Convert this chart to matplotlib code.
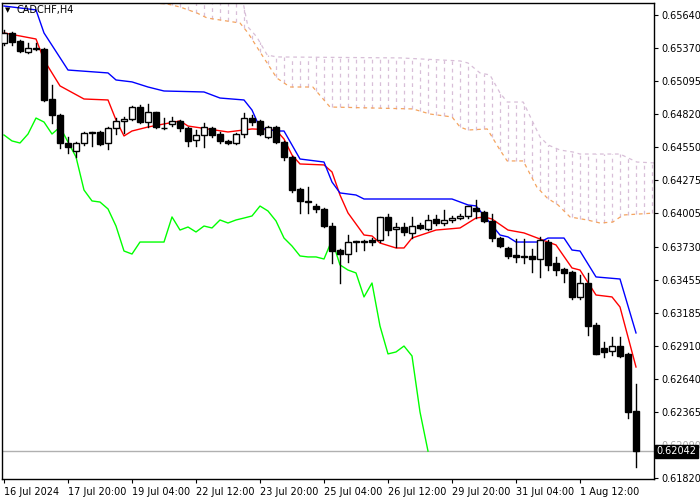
import matplotlib
matplotlib.use("Agg")
import matplotlib.pyplot as plt
import numpy as np

# OHLC in price points (1e-5)
opens = [65409, 65492, 65426, 65335, 65368, 65360, 64947, 64815, 64584, 64518,
         64584, 64675, 64675, 64584, 64708, 64766, 64782, 64881, 64757, 64840,
         64708, 64741, 64766, 64708, 64609, 64650, 64708, 64658, 64601, 64584,
         64658, 64790, 64766, 64634, 64716, 64592, 64469, 64205, 64106, 64064,
         64040, 63899, 63701, 63668, 63776, 63776, 63784, 63784, 63974, 63875,
         63891, 63842, 63908, 63875, 63957, 63924, 63949, 63965, 63982, 64048,
         64015, 63941, 63800, 63718, 63660, 63652, 63652, 63627, 63767, 63594,
         63545, 63520, 63314, 63429, 63083, 62893, 62868, 62909, 62844, 62373]
highs = [65516, 65500, 65434, 65409, 65409, 65368, 65063, 64823, 64634, 64592,
         64675, 64675, 64683, 64716, 64790, 64799, 64889, 64898, 64906, 64840,
         64790, 64799, 64774, 64716, 64691, 64749, 64716, 64675, 64609, 64667,
         64832, 64815, 64774, 64724, 64724, 64601, 64477, 64213, 64221, 64081,
         64048, 63924, 63710, 63825, 63776, 63784, 63800, 63974, 63998, 63924,
         63924, 63974, 63924, 63990, 63990, 64031, 63982, 63998, 64064, 64114,
         64023, 63998, 63809, 63726, 63792, 63792, 63710, 63809, 63784, 63644,
         63553, 63528, 63495, 63512, 63099, 62943, 62984, 62984, 62852, 62596]
lows = [65393, 65393, 65335, 65327, 65351, 64931, 64749, 64543, 64502, 64469,
        64568, 64559, 64568, 64535, 64658, 64667, 64774, 64749, 64716, 64708,
        64700, 64724, 64683, 64559, 64559, 64551, 64634, 64584, 64576, 64576,
        64634, 64733, 64650, 64625, 64584, 64444, 64180, 64007, 64007, 64015,
        63891, 63594, 63429, 63602, 63693, 63701, 63743, 63767, 63825, 63726,
        63825, 63800, 63875, 63866, 63908, 63908, 63932, 63957, 63965, 63965,
        63932, 63776, 63726, 63635, 63602, 63594, 63520, 63479, 63536, 63495,
        63437, 63297, 63297, 63000, 62844, 62819, 62835, 62819, 62315, 61911]
closes = [65492, 65417, 65343, 65368, 65360, 64939, 64815, 64584, 64551, 64584,
          64667, 64667, 64576, 64708, 64766, 64782, 64881, 64757, 64840, 64716,
          64708, 64766, 64708, 64601, 64650, 64716, 64650, 64601, 64584, 64658,
          64790, 64757, 64658, 64716, 64592, 64469, 64196, 64106, 64097, 64040,
          63899, 63693, 63668, 63767, 63767, 63767, 63767, 63974, 63866, 63891,
          63850, 63899, 63883, 63949, 63924, 63949, 63965, 63982, 64064, 64023,
          63941, 63800, 63734, 63652, 63644, 63644, 63627, 63784, 63578, 63536,
          63512, 63314, 63429, 63074, 62844, 62860, 62909, 62827, 62365, 62042]

# Ichimoku lines: (bar index, price points)
tenkan_idx = [0, 4, 5, 7, 10, 13, 14, 15, 16, 18, 22, 23, 28, 31, 34, 35, 36, 37, 40, 41,
              42, 43, 45, 46, 47, 49, 50, 51, 54, 57, 59, 60, 61, 63, 65, 68, 69, 71, 72,
              74, 76, 77, 79]
tenkan_val = [65492, 65442, 65269, 65055, 64947, 64939, 64774, 64642, 64683, 64716, 64766,
              64724, 64675, 64700, 64691, 64617, 64485, 64411, 64403, 64345, 64155, 64007,
              63825, 63817, 63759, 63718, 63718, 63800, 63866, 63883, 63965, 63974, 63957,
              63866, 63842, 63767, 63743, 63553, 63536, 63330, 63314, 63231, 62736]
kijun_idx = [0, 4, 5, 8, 13, 14, 16, 18, 20, 25, 27, 30, 31, 32, 34, 35, 37, 40, 41, 42,
             44, 45, 56, 58, 59, 62, 63, 64, 67, 68, 70, 71, 72, 74, 77, 79]
kijun_val = [65714, 65682, 65492, 65186, 65162, 65104, 65088, 65046, 65013, 65005, 64955,
             64939, 64856, 64708, 64683, 64683, 64452, 64427, 64262, 64172, 64155, 64122,
             64122, 64073, 64065, 63825, 63809, 63767, 63767, 63800, 63800, 63701, 63693,
             63479, 63462, 63017]
span_b_idx = [17, 18.6, 29.9, 30.5, 31.6, 32.9, 34.1, 49.5, 57, 58, 59.5, 60.75, 62, 62.9,
              64.9, 67, 68, 69.5, 71.1, 72, 77, 79.1, 81.5]
span_b_val = [65900, 65739, 65739, 65541, 65459, 65310, 65294, 65286, 65261, 65244, 65162,
              65145, 64997, 64922, 64922, 64634, 64568, 64526, 64510, 64493, 64493, 64427,
              64419]
span_a_idx = [17, 18.6, 20.4, 22, 24.1, 25.4, 29.5, 30.5, 32.4, 34.1, 35.75, 38.6, 40.75,
              51.1, 53.25, 56, 57, 58, 60.4, 62, 62.9, 64.9, 66.6, 67.9, 69.25, 70.75, 72.9,
              74.5, 76.1, 77.4, 81.5]
span_a_val = [65805, 65739, 65731, 65706, 65657, 65615, 65574, 65492, 65294, 65120, 65046,
              65046, 64881, 64865, 64823, 64799, 64716, 64691, 64700, 64526, 64436, 64436,
              64221, 64130, 64073, 63974, 63949, 63924, 63932, 63990, 64007]

yticks = [0.65640, 0.65370, 0.65095, 0.64820, 0.64550, 0.64275, 0.64005, 0.63730,
          0.63455, 0.63185, 0.62910, 0.62640, 0.62365, 0.62090, 0.61820]
xtick_idx = [0, 8, 16, 24, 32, 40, 48, 56, 64, 72]
xtick_labels = ["16 Jul 2024", "17 Jul 20:00", "19 Jul 04:00", "22 Jul 12:00", "23 Jul 20:00",
                "25 Jul 04:00", "26 Jul 12:00", "29 Jul 20:00", "31 Jul 04:00", "1 Aug 12:00"]

o = np.array(opens) / 1e5
h = np.array(highs) / 1e5
l = np.array(lows) / 1e5
c = np.array(closes) / 1e5
x = np.arange(len(c))
ymin, ymax = 0.61812, 0.65739

fig = plt.figure(figsize=(7, 5), dpi=100)
ax = fig.add_axes([2 / 700, 21 / 500, 652 / 700, 476 / 500])
ax.set_xlim(-0.25, 81.25)
ax.set_ylim(ymin, ymax)

# cloud hatch
sa_i = np.array(span_a_idx); sa_v = np.array(span_a_val) / 1e5
sb_i = np.array(span_b_idx); sb_v = np.array(span_b_val) / 1e5
for k in range(18, 82):
    lo = np.interp(k, sa_i, sa_v)
    hi = np.interp(k, sb_i, sb_v)
    ax.plot([k, k], [lo, hi], color="#d8bfd8", lw=0.9, ls=(0, (3, 3)), zorder=1)
ax.plot(sb_i, sb_v, color="#d8bfd8", lw=0.9, ls=(0, (3, 3)), zorder=1)
ax.plot(sa_i, sa_v, color="#f4a460", lw=0.9, ls=(0, (3, 3)), zorder=1)

# chikou: close shifted 26 bars back
ax.plot(x[:len(c) - 26], c[26:], color="#00ff00", lw=1, zorder=2)
ax.plot(tenkan_idx, np.array(tenkan_val) / 1e5, color="red", lw=1, zorder=2)
ax.plot(kijun_idx, np.array(kijun_val) / 1e5, color="blue", lw=1, zorder=2)

# candles
for i in x:
    ax.plot([i, i], [l[i], h[i]], color="black", lw=1, zorder=3)
    bottom = min(o[i], c[i])
    height = max(abs(c[i] - o[i]), 0.000012)
    face = "white" if c[i] > o[i] else "black"
    ax.add_patch(plt.Rectangle((i - 0.35, bottom), 0.7, height, facecolor=face,
                               edgecolor="black", lw=1, zorder=4))

# current price line
ax.axhline(c[-1], color="#b0b0b0", lw=1, zorder=0)

ax.yaxis.tick_right()
ax.set_yticks(yticks)
ax.set_yticklabels([f"{v:.5f}" for v in yticks])
ax.set_xticks(xtick_idx)
ax.set_xticklabels(xtick_labels, ha="left")
ax.tick_params(axis="both", labelsize=7, length=3, direction="out", color="black", pad=2)
ax.tick_params(axis="x", pad=3)
for sp in ax.spines.values():
    sp.set_color("black")
    sp.set_linewidth(1)

# hide the tick label hidden under the price box, as the terminal does
for lbl, v in zip(ax.get_yticklabels(), yticks):
    if abs(v - c[-1]) < 0.0008:
        lbl.set_alpha(0.35)

ax.text(1.004, (c[-1] - ymin) / (ymax - ymin), f"{c[-1]:.5f}", transform=ax.transAxes,
        fontsize=7, color="white", va="center", ha="left", zorder=10, clip_on=False,
        bbox=dict(boxstyle="square,pad=0.15", fc="black", ec="black"))
ax.text(0.005, 0.985, "\u25bc", transform=ax.transAxes, fontsize=5, va="center", ha="left")
ax.text(0.022, 0.985, "CADCHF,H4", transform=ax.transAxes, fontsize=7, va="center", ha="left")

fig.savefig("out.png", dpi=100)
